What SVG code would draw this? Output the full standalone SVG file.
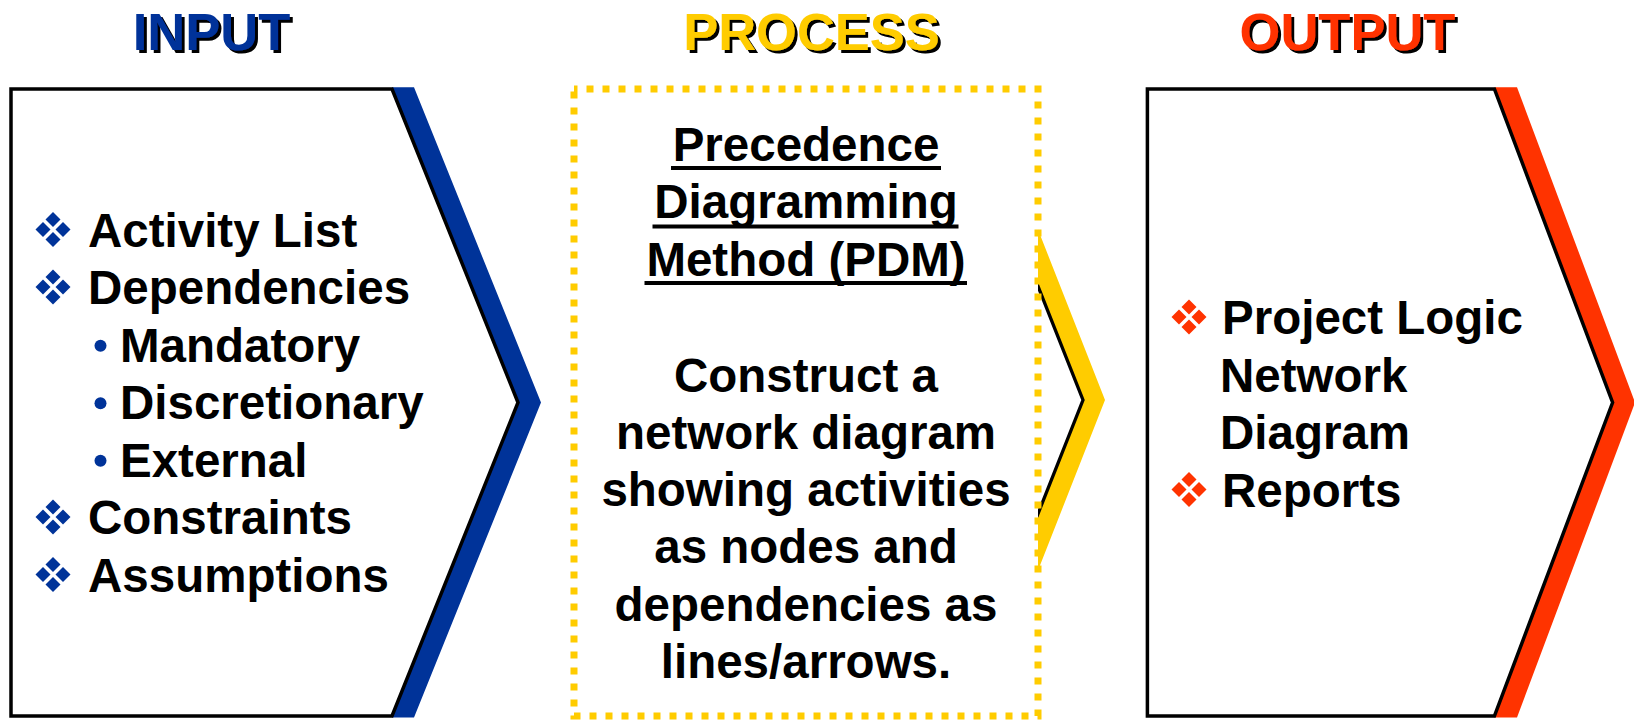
<svg xmlns="http://www.w3.org/2000/svg" xmlns:xlink="http://www.w3.org/1999/xlink" width="1634" height="720" viewBox="0 0 1634 720">
  <style>
    .title { font-family: "Liberation Sans", Arial, sans-serif; font-weight: bold; font-size: 52.5px; text-anchor: middle; filter: url(#shadow); }
    .body { font-family: "Liberation Sans", Arial, sans-serif; font-weight: bold; font-size: 47.5px; fill: #000; }
    .center { text-anchor: middle; }
    .box { fill: #fff; stroke: #000; stroke-width: 3.5; stroke-linejoin: miter; }
    .edge { fill: none; stroke: #000; stroke-width: 3.3; }
    .uline { stroke: #000; stroke-width: 4; }
    .dotted { fill: #fff; stroke: #FFCC00; stroke-width: 7; stroke-dasharray: 7 9; stroke-dashoffset: 3.5; }
    .blue { fill: #003399; }
    .yellow { fill: #FFCC00; }
    .red { fill: #FF3300; }
  </style>
  <defs>
    <filter id="shadow" x="-10%" y="-20%" width="130%" height="150%">
      <feDropShadow dx="3" dy="3" stdDeviation="0" flood-color="#000" flood-opacity="1"/>
    </filter>
    <!-- only the part of the process chevron right of the dotted frame shows -->
    <clipPath id="process-tip">
      <rect x="1038" y="0" width="120" height="720"/>
    </clipPath>
    <!-- four-diamond bullet, centred on its origin -->
    <g id="diamonds">
      <polygon points="0,-17.5 7.5,-10 0,-2.5 -7.5,-10"/>
      <polygon points="0,2.5 7.5,10 0,17.5 -7.5,10"/>
      <polygon points="-17.5,0 -10,-7.5 -2.5,0 -10,7.5"/>
      <polygon points="2.5,0 10,-7.5 17.5,0 10,7.5"/>
    </g>
  </defs>

  <rect width="1634" height="720" fill="#fff"/>

  <!-- flow chevrons behind the stage boxes -->
  <g id="connectors">
    <polygon class="blue" points="392,87.3 414,87.3 541,402.5 414,717.5 392,717.5 518,402.5"/>
    <polygon class="yellow" clip-path="url(#process-tip)" points="960,87 982,87 1105,400 982,713 960,713 1083,400"/>
    <polygon class="red" points="1494.4,87.3 1517,87.3 1635,402.5 1517,717.5 1494.4,717.5 1612.6,402.5"/>
  </g>

  <!-- INPUT stage -->
  <g id="node-input">
    <text class="title blue" x="211.5" y="49.5">INPUT</text>
    <path class="box" d="M11,89 H392 L518,402.5 L392,716 H11 Z"/>
    <use xlink:href="#diamonds" x="53" y="229.5" class="blue"/>
    <use xlink:href="#diamonds" x="53" y="287" class="blue"/>
    <use xlink:href="#diamonds" x="53" y="517" class="blue"/>
    <use xlink:href="#diamonds" x="53" y="574.5" class="blue"/>
    <circle class="blue" cx="100.5" cy="345.8" r="6"/>
    <circle class="blue" cx="100.5" cy="403.3" r="6"/>
    <circle class="blue" cx="100.5" cy="460.8" r="6"/>
    <text class="body" x="88" y="246.5">Activity List</text>
    <text class="body" x="88" y="304">Dependencies</text>
    <text class="body" x="120" y="361.5">Mandatory</text>
    <text class="body" x="120" y="419">Discretionary</text>
    <text class="body" x="120" y="476.5">External</text>
    <text class="body" x="88" y="534">Constraints</text>
    <text class="body" x="88" y="591.5">Assumptions</text>
  </g>

  <!-- PROCESS stage -->
  <g id="node-process">
    <text class="title yellow" x="811.5" y="49.5">PROCESS</text>
    <polyline class="edge" clip-path="url(#process-tip)" points="960,89 1083,400 960,711"/>
    <rect class="dotted" x="574" y="89" width="464" height="627"/>
    <g class="body center">
      <text x="806" y="160.5">Precedence</text>
      <text x="806" y="218">Diagramming</text>
      <text x="806" y="275.5">Method (PDM)</text>
      <text x="806" y="391.5">Construct a</text>
      <text x="806" y="448.8">network diagram</text>
      <text x="806" y="506.1">showing activities</text>
      <text x="806" y="563.4">as nodes and</text>
      <text x="806" y="620.7">dependencies as</text>
      <text x="806" y="678">lines/arrows.</text>
    </g>
    <!-- heading underlines -->
    <line class="uline" x1="671" y1="168" x2="941" y2="168"/>
    <line class="uline" x1="652.5" y1="226.5" x2="958.5" y2="226.5"/>
    <line class="uline" x1="644.5" y1="283" x2="967" y2="283"/>
  </g>

  <!-- OUTPUT stage -->
  <g id="node-output">
    <text class="title red" x="1347.5" y="49.5">OUTPUT</text>
    <path class="box" d="M1147.4,89 H1494.4 L1612.6,402.5 L1494.4,716 H1147.4 Z"/>
    <use xlink:href="#diamonds" x="1189" y="317" class="red"/>
    <use xlink:href="#diamonds" x="1189" y="489.5" class="red"/>
    <text class="body" x="1222" y="334">Project Logic</text>
    <text class="body" x="1220" y="391.5">Network</text>
    <text class="body" x="1220" y="449">Diagram</text>
    <text class="body" x="1222" y="506.5">Reports</text>
  </g>
</svg>
